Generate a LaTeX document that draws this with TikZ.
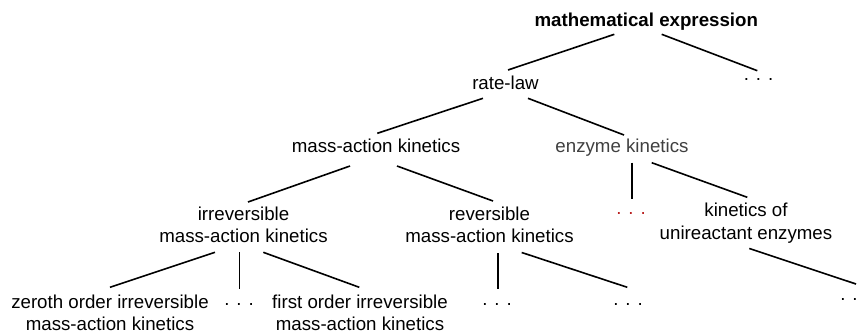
\documentclass[tikz,border=0pt]{standalone}
\usepackage{fontspec}
\setmainfont{Liberation Sans}
\definecolor{dotred}{RGB}{185,30,30}
\definecolor{ekgray}{RGB}{64,64,64}
\begin{document}
\begin{tikzpicture}[x=1pt,y=-1pt,
  lbl/.style={inner sep=0pt,anchor=base,align=center,font=\fontsize{18.7}{22.5}\selectfont},
  edge/.style={line width=1.6pt}]
\useasboundingbox[fill=white] (0,0) rectangle (862,333);
% nodes (base = baseline of the last line)
\node[lbl,font=\fontsize{18.7}{22.5}\selectfont\bfseries] (me) at (646.3,26) {mathematical expression};
\node[lbl] (rl) at (505.5,89.3) {rate-law};
\node[lbl] (d1) at (758.5,80) {. . .};
\node[lbl] (mak) at (376,152.7) {mass-action kinetics};
\node[lbl,text=ekgray] (ek) at (622,152.3) {enzyme kinetics};
\node[lbl] (irr) at (243.5,242.7) {irreversible\\mass-action kinetics};
\node[lbl] (rev) at (489.5,242.7) {reversible\\mass-action kinetics};
\node[lbl,text=dotred] (rd) at (631,214) {. . .};
\node[lbl] (kou) at (746,239.3) {kinetics of\\unireactant enzymes};
\node[lbl] (zo) at (110,330.7) {zeroth order irreversible\\mass-action kinetics};
\node[lbl] (d2) at (239,305) {. . .};
\node[lbl] (fo) at (360,330.7) {first order irreversible\\mass-action kinetics};
\node[lbl] (d3) at (497,305) {. . .};
\node[lbl] (d4) at (628,305) {. . .};
\node[lbl] (d5) at (855,300) {. . .};
% edges
\draw[edge] ([shift={(-32,8.3)}]me.base) -- ([shift={(2.5,-19.3)}]rl.base);
\draw[edge] ([shift={(15.4,8.3)}]me.base) -- ([shift={(-1.2,-9.3)}]d1.base);
\draw[edge] ([shift={(-22.5,9)}]rl.base) -- ([shift={(1.3,-19.4)}]mak.base);
\draw[edge] ([shift={(22.5,9)}]rl.base) -- ([shift={(2,-17.3)}]ek.base);
\draw[edge] ([shift={(-26,13.3)}]mak.base) -- ([shift={(4.5,-40.7)}]irr.base);
\draw[edge] ([shift={(21,13.3)}]mak.base) -- ([shift={(3.5,-41.7)}]rev.base);
\draw[edge] ([shift={(10,10.4)}]ek.base) -- ([shift={(1,-14.7)}]rd.base);
\draw[edge] ([shift={(29.7,10.4)}]ek.base) -- ([shift={(1.3,-42)}]kou.base);
\draw[edge] ([shift={(-28.5,9.6)}]irr.base) -- ([shift={(0,-43.4)}]zo.base);
\draw[edge] ([shift={(-4.2,9.6)}]irr.base) -- ([shift={(0.3,-15.7)}]d2.base);
\draw[edge] ([shift={(19.8,9.6)}]irr.base) -- ([shift={(-0.7,-43.4)}]fo.base);
\draw[edge] ([shift={(8.2,10.3)}]rev.base) -- ([shift={(0.7,-16)}]d3.base);
\draw[edge] ([shift={(32.2,9.8)}]rev.base) -- ([shift={(-0.7,-17.7)}]d4.base);
\draw[edge] ([shift={(3.3,9.2)}]kou.base) -- ([shift={(1,-16)}]d5.base);
\end{tikzpicture}
\end{document}
